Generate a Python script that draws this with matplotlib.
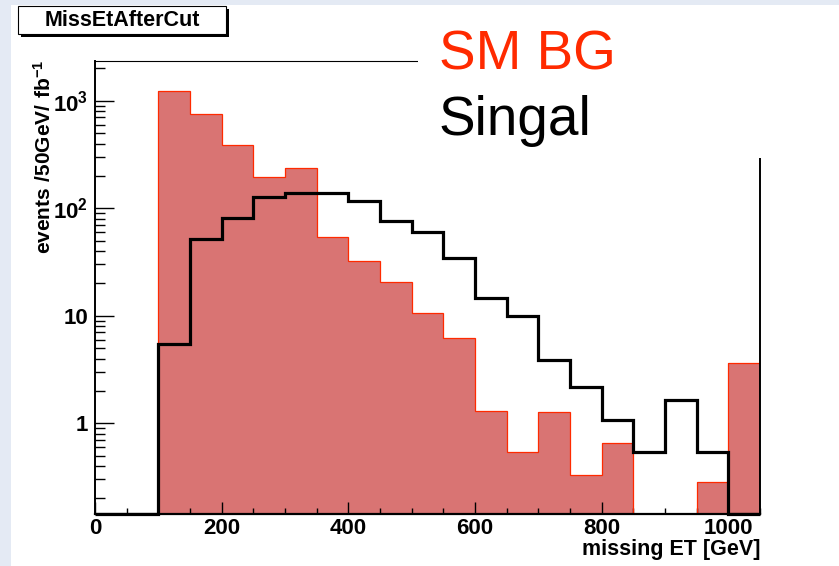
import numpy as np
import matplotlib
matplotlib.use("Agg")
import matplotlib.pyplot as plt
from matplotlib.patches import Rectangle
from matplotlib.ticker import FixedLocator, NullFormatter

plt.rcParams['font.family'] = ['Liberation Sans', 'DejaVu Sans']
plt.rcParams['mathtext.fontset'] = 'custom'
plt.rcParams['mathtext.rm'] = 'Liberation Sans'
plt.rcParams['mathtext.bf'] = 'Liberation Sans:bold'

# histogram bins, 50 GeV wide
bin_edges = [0, 50, 100, 150, 200, 250, 300, 350, 400, 450, 500, 550,
             600, 650, 700, 750, 800, 850, 900, 950, 1000, 1050]

# SM background (events / 50 GeV / fb^-1)
bg_values = [0, 0, 1230, 754, 385, 197, 239, 54.3, 32.1, 20.4, 10.6, 6.27,
             1.31, 0.545, 1.26, 0.33, 0.656, 0, 0, 0.284, 3.67]

# signal
sig_values = [0, 0, 5.47, 51.8, 81.2, 128.5, 138.8, 138, 117, 76.2, 59.8, 34.8,
              14.7, 9.84, 3.84, 2.19, 1.08, 0.545, 1.63, 0.545, 0]

y_ticks = [1, 10, 100, 1000]
y_tick_labels = ['1', '10', r'$\mathbf{10^{2}}$', r'$\mathbf{10^{3}}$']
x_ticks = [0, 200, 400, 600, 800, 1000]

W, H = 839, 566
YMIN, YMAX = 0.143, 2345


def fx(px):
    return px / W


def fy(py):
    return 1 - py / H


fig = plt.figure(figsize=(W / 100, H / 100), dpi=100)
fig.patch.set_facecolor('#e4eaf4')
fig.patches.append(Rectangle((fx(11), 0), 1 - fx(11), fy(5), transform=fig.transFigure,
                             facecolor='white', edgecolor='none', zorder=-1))

ax = fig.add_axes([fx(95), fy(514), fx(760) - fx(95), fy(61) - fy(514)])
ax.set_facecolor('white')
ax.set_yscale('log')
ax.set_xlim(0, 1050)
ax.set_ylim(YMIN, YMAX)

edges = np.array(bin_edges)
bg = np.clip(np.array(bg_values), YMIN, None)
sig = np.clip(np.array(sig_values), YMIN, None)

ax.stairs(bg, edges, baseline=YMIN, fill=True, facecolor='#d97473', edgecolor='none', zorder=1)
ax.stairs(bg, edges, baseline=YMIN, color='#ff2a00', linewidth=0.9, zorder=2)
ax.stairs(sig, edges, baseline=YMIN, color='black', linewidth=2.3, zorder=3, clip_on=False)

# axis frame
for side, lw in [('left', 1.4), ('bottom', 1.6), ('right', 1.4), ('top', 0.8)]:
    ax.spines[side].set_linewidth(lw)
    ax.spines[side].set_color('black')
    ax.spines[side].set_zorder(4)

ax.xaxis.set_major_locator(FixedLocator(x_ticks))
ax.xaxis.set_minor_locator(FixedLocator(bin_edges))
ax.set_xticklabels([str(t) for t in x_ticks])
ax.yaxis.set_major_locator(FixedLocator(y_ticks))
ax.set_yticklabels(y_tick_labels)
minor_y = [m * 10 ** e for e in range(-1, 4) for m in range(2, 10)]
ax.yaxis.set_minor_locator(FixedLocator([v for v in minor_y if YMIN < v < YMAX]))
ax.yaxis.set_minor_formatter(NullFormatter())

ax.tick_params(axis='both', which='both', direction='in', top=False, right=False,
               labelsize=16, width=1.0, color='black')
ax.tick_params(axis='x', which='major', length=9, pad=3)
ax.tick_params(axis='x', which='minor', length=4.5)
ax.tick_params(axis='y', which='major', length=14, pad=5)
ax.tick_params(axis='y', which='minor', length=7)
for lab in ax.get_xticklabels() + ax.get_yticklabels():
    lab.set_fontweight('bold')

# axis titles
fig.text(fx(760), fy(539), 'missing ET [GeV]', ha='right', va='top',
         fontsize=15.5, fontweight='bold')
fig.text(fx(44), fy(60), r'$\mathbf{events\ /50GeV/\ fb^{-1}}$', rotation=90,
         ha='center', va='top', fontsize=15)

# histogram title box with drop shadow
fig.patches.append(Rectangle((fx(21), fy(37)), fx(229) - fx(21), fy(9) - fy(37),
                             transform=fig.transFigure, facecolor='black',
                             edgecolor='none', zorder=6))
fig.patches.append(Rectangle((fx(18), fy(34)), fx(226) - fx(18), fy(6) - fy(34),
                             transform=fig.transFigure, facecolor='white',
                             edgecolor='black', linewidth=0.8, zorder=7))
fig.text(fx(122), fy(21), 'MissEtAfterCut', ha='center', va='center',
         fontsize=15.5, fontweight='bold', zorder=8)

# legend text block
fig.patches.append(Rectangle((fx(418), fy(158)), 1 - fx(418), fy(6) - fy(158),
                             transform=fig.transFigure, facecolor='white',
                             edgecolor='none', zorder=6))
fig.text(fx(439), fy(70), 'SM BG', color='#ff2a00', fontsize=39.5,
         ha='left', va='baseline', zorder=8)
fig.text(fx(439), fy(135), 'Singal', color='black', fontsize=39.5,
         ha='left', va='baseline', zorder=8)

fig.savefig('out.png', dpi=100, facecolor=fig.get_facecolor())
